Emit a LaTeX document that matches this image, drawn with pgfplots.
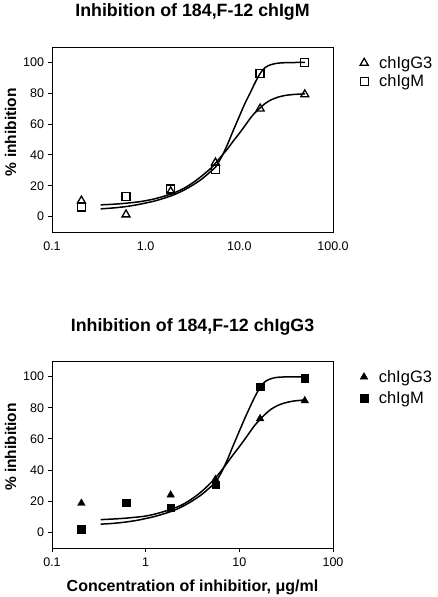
\documentclass[border=0pt]{standalone}
\usepackage{fontspec}
\setmainfont{Liberation Sans}
\usepackage{pgfplots}
\pgfplotsset{compat=1.18}
\newcommand{\fs}[1]{\fontsize{#1}{#1}\selectfont}
\pgfplotsset{
  myaxis/.style={
    scale only axis, width=281pt,
    xmin=0.1, xmax=100, ymin=-10, ymax=110,
    xtick={0.1,1,10,100}, ytick={0,20,40,60,80,100},
    xminorticks=false, yminorticks=false,
    tick align=outside, ytick pos=left, xtick pos=bottom,
    axis line style={line width=0.9pt},
    major tick length=4.5pt,
    every tick/.style={line width=0.9pt, black},
    ticklabel style={font=\fs{12.5}},
    xticklabel style={anchor=base, yshift=-14pt},
    /pgf/number format/assume math mode=true,
    title style={font=\bfseries\fs{17.8}, at={(axis description cs:0.5,1)}, anchor=base},
    ylabel style={font=\bfseries\fs{15.5}, at={(axis description cs:-0.128,0.54)}, anchor=base},
    legend style={draw=none, fill=none, at={(axis description cs:1,1)}, anchor=north west,
      font=\fs{16.5}, row sep=1pt, column sep=9pt},
    legend cell align=left,
  },
  fitline/.style={smooth, no markers, line width=1.5pt, black, forget plot},
}
\begin{document}
\begin{tikzpicture}
\path[use as bounding box] (0,0) rectangle (437pt,597pt);
% ---------------- top panel ----------------
\begin{semilogxaxis}[myaxis, at={(52pt,365pt)}, anchor=south west, height=185pt,
  xticklabels={0.1,1.0,10.0,100.0},
  xtick style={draw opacity=0},
  title={Inhibition of 184,F-12 chIgM}, title style={yshift=24.3pt},
  ylabel={\% inhibition},
  legend style={xshift=24pt, yshift=-5pt}]
\addplot[only marks, mark=triangle, mark size=4.6pt, mark options={line width=1.3pt, fill=white}]
  coordinates {(0.206,10.3) (0.617,1.3) (1.85,16.3) (5.56,35) (16.67,70) (50,79.2)};
\addlegendentry{chIgG3}
\addplot[only marks, mark=square, mark size=4pt, mark options={line width=1.3pt, fill=white}]
  coordinates {(0.206,6.2) (0.617,13) (1.85,17.8) (5.56,30.7) (16.67,93) (50,99.8)};
\addlegendentry{chIgM}
\addplot[fitline] coordinates {(0.33,7.6)(0.45,8.0)(0.6,8.6)(0.8,9.4)(1,10.3)(1.3,11.8)(1.9,14.8)(2.5,18)(3.2,22)(4,26.5)(5,31.5)(5.56,34.6)(6.5,39.5)(7.5,44)(8.5,48.5)(10,54)(11.5,59)(13,63.5)(14.5,67)(16.67,70.5)(19,73.5)(22,75.8)(26,77.5)(31,78.6)(38,79.2)(50,79.6)};
\addplot[fitline] coordinates {(0.33,5.0)(0.45,5.6)(0.6,6.4)(0.8,7.6)(1,8.8)(1.3,10.4)(1.9,13.6)(2.5,16.8)(3.2,20.5)(4,24.5)(5,29.5)(5.56,32)(6.5,39)(7.5,47)(8.5,55)(10,65)(11.5,73.5)(13,80)(14.5,86)(16,91)(17.5,94.6)(19,96.8)(21,98.2)(24,99.2)(28,99.7)(35,99.9)(50,100)};
\end{semilogxaxis}
% ---------------- bottom panel ----------------
\begin{semilogxaxis}[myaxis, at={(52pt,49pt)}, anchor=south west, height=187pt,
  xticklabels={0.1,1,10,100},
  title={Inhibition of 184,F-12 chIgG3}, title style={yshift=23.3pt},
  ylabel={\% inhibition},
  xlabel={Concentration of inhibitior, μg/ml},
  xlabel style={font=\bfseries\fs{16}, at={(axis description cs:0.5,0)}, anchor=base, yshift=-43.7pt},
  legend style={xshift=24pt, yshift=-5pt, row sep=4pt}]
\addplot[only marks, mark=triangle*, mark size=4.4pt, mark options={fill=black, draw=black}]
  coordinates {(0.206,18.7) (1.85,24) (5.56,34) (16.67,73) (50,84.5)};
\addlegendentry{chIgG3}
\addplot[only marks, mark=square*, mark size=3.7pt, mark options={fill=black, draw=black}]
  coordinates {(0.206,2) (0.617,19) (1.85,15.7) (5.56,30.8) (16.67,93.5) (50,99)};
\addlegendentry{chIgM}
\addplot[fitline] coordinates {(0.33,8.2)(0.45,8.6)(0.6,9.1)(0.8,9.8)(1,10.5)(1.3,12)(1.9,15)(2.5,18)(3.2,22)(4,26.5)(5,32)(5.56,35)(6.5,40)(7.5,45)(8.5,49.5)(10,55)(11.5,60)(13,64.5)(14.5,68.5)(16.67,72.5)(19,76)(22,79.2)(26,81.6)(31,83.2)(38,84.3)(50,85)};
\addplot[fitline] coordinates {(0.33,5.3)(0.45,5.8)(0.6,6.6)(0.8,7.7)(1,8.9)(1.3,10.5)(1.9,13.6)(2.5,16.8)(3.2,20.5)(4,24.5)(5,29.5)(5.56,32)(6.5,39)(7.5,47)(8.5,55)(10,65)(11.5,73.5)(13,80.5)(14.5,86.5)(16,91.3)(17.5,94.8)(19,96.9)(21,98.3)(24,99.3)(28,99.7)(35,99.8)(50,99.8)};
\end{semilogxaxis}
\end{tikzpicture}
\end{document}
